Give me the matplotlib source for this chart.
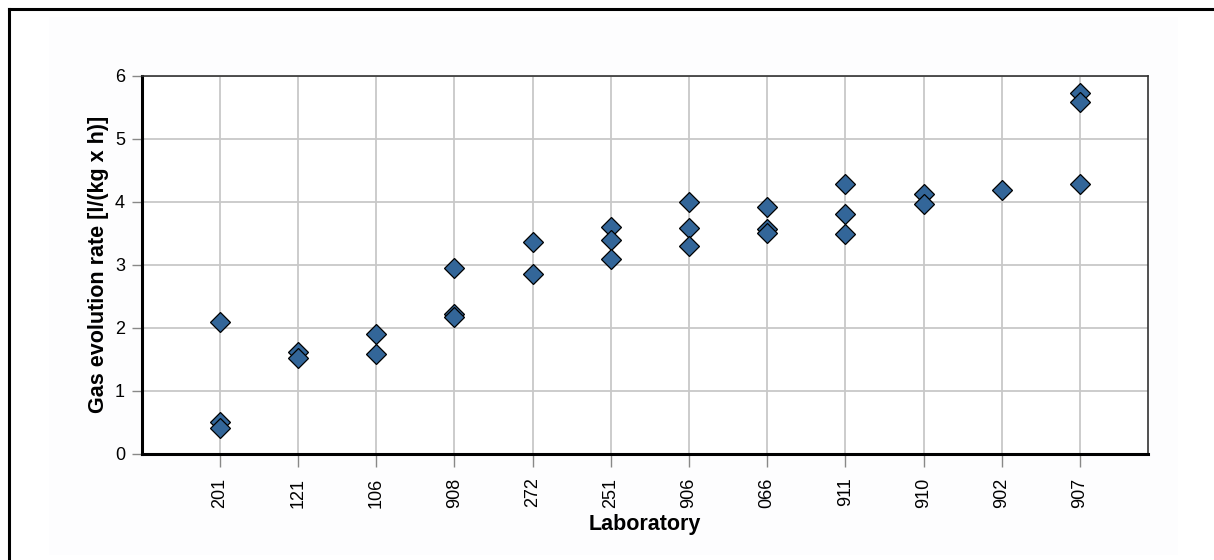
import matplotlib.pyplot as plt
from matplotlib.patches import Rectangle

plt.rcParams['font.family'] = ['Liberation Sans', 'DejaVu Sans']

# Data
labs = ['201', '121', '106', '908', '272', '251', '906', '066', '911', '910', '902', '907']
rates = [
    [2.09, 0.50, 0.41],
    [1.62, 1.53],
    [1.90, 1.59],
    [2.95, 2.22, 2.18],
    [3.36, 2.85],
    [3.60, 3.39, 3.10],
    [3.99, 3.59, 3.30],
    [3.91, 3.57, 3.50],
    [4.28, 3.81, 3.49],
    [4.13, 3.97],
    [4.19],
    [5.72, 5.59, 4.28],
]

fig = plt.figure(figsize=(12.14, 5.6), dpi=100)
ax = fig.add_axes([0.1167, 0.1893, 0.8289, 0.6755])
ax.set_zorder(2)

# outer frame (only top and left visible in the reference) + faint panel
fig.patches.append(Rectangle((49 / 1214, 5 / 560), 1129 / 1214, 538 / 560,
                             transform=fig.transFigure, facecolor='#fdfdfe',
                             edgecolor='none', zorder=-1))
fig.add_artist(plt.Line2D([8.5 / 1214, 1.0], [1 - 8.5 / 560] * 2,
                          transform=fig.transFigure, color='black', lw=2.2))
fig.add_artist(plt.Line2D([8.5 / 1214] * 2, [0.0, 1 - 8.5 / 560],
                          transform=fig.transFigure, color='black', lw=2.2))

for i, vals in enumerate(rates):
    ax.plot([i + 1] * len(vals), vals, linestyle='none', marker='D', ms=10,
            markerfacecolor='#336699', markeredgecolor='black',
            markeredgewidth=0.9, zorder=3)

ax.set_xlim(0, 12.87)
ax.set_ylim(0, 6)
ax.set_xticks(range(1, len(labs) + 1))
ax.set_xticklabels(labs, rotation=90, fontsize=13)
ax.set_yticks(range(0, 7))
ax.tick_params(axis='y', labelsize=13, length=7, width=1, color='#888888', pad=5)
ax.tick_params(axis='x', length=9, width=1, color='#888888', pad=8)
ax.grid(True, color='#c8c8c8', linewidth=1.3)
ax.set_axisbelow(True)

ax.spines['left'].set_linewidth(2.2)
ax.spines['bottom'].set_linewidth(2.2)
ax.spines['top'].set_linewidth(1.2)
ax.spines['right'].set_linewidth(1.2)
ax.spines['top'].set_color('#333333')
ax.spines['right'].set_color('#333333')

ax.set_xlabel('Laboratory', fontsize=15.5, fontweight='bold', labelpad=4)
ax.set_ylabel('Gas evolution rate [l/(kg x h)]', fontsize=15.5, fontweight='bold', labelpad=4)

fig.savefig('out.png', dpi=100)
